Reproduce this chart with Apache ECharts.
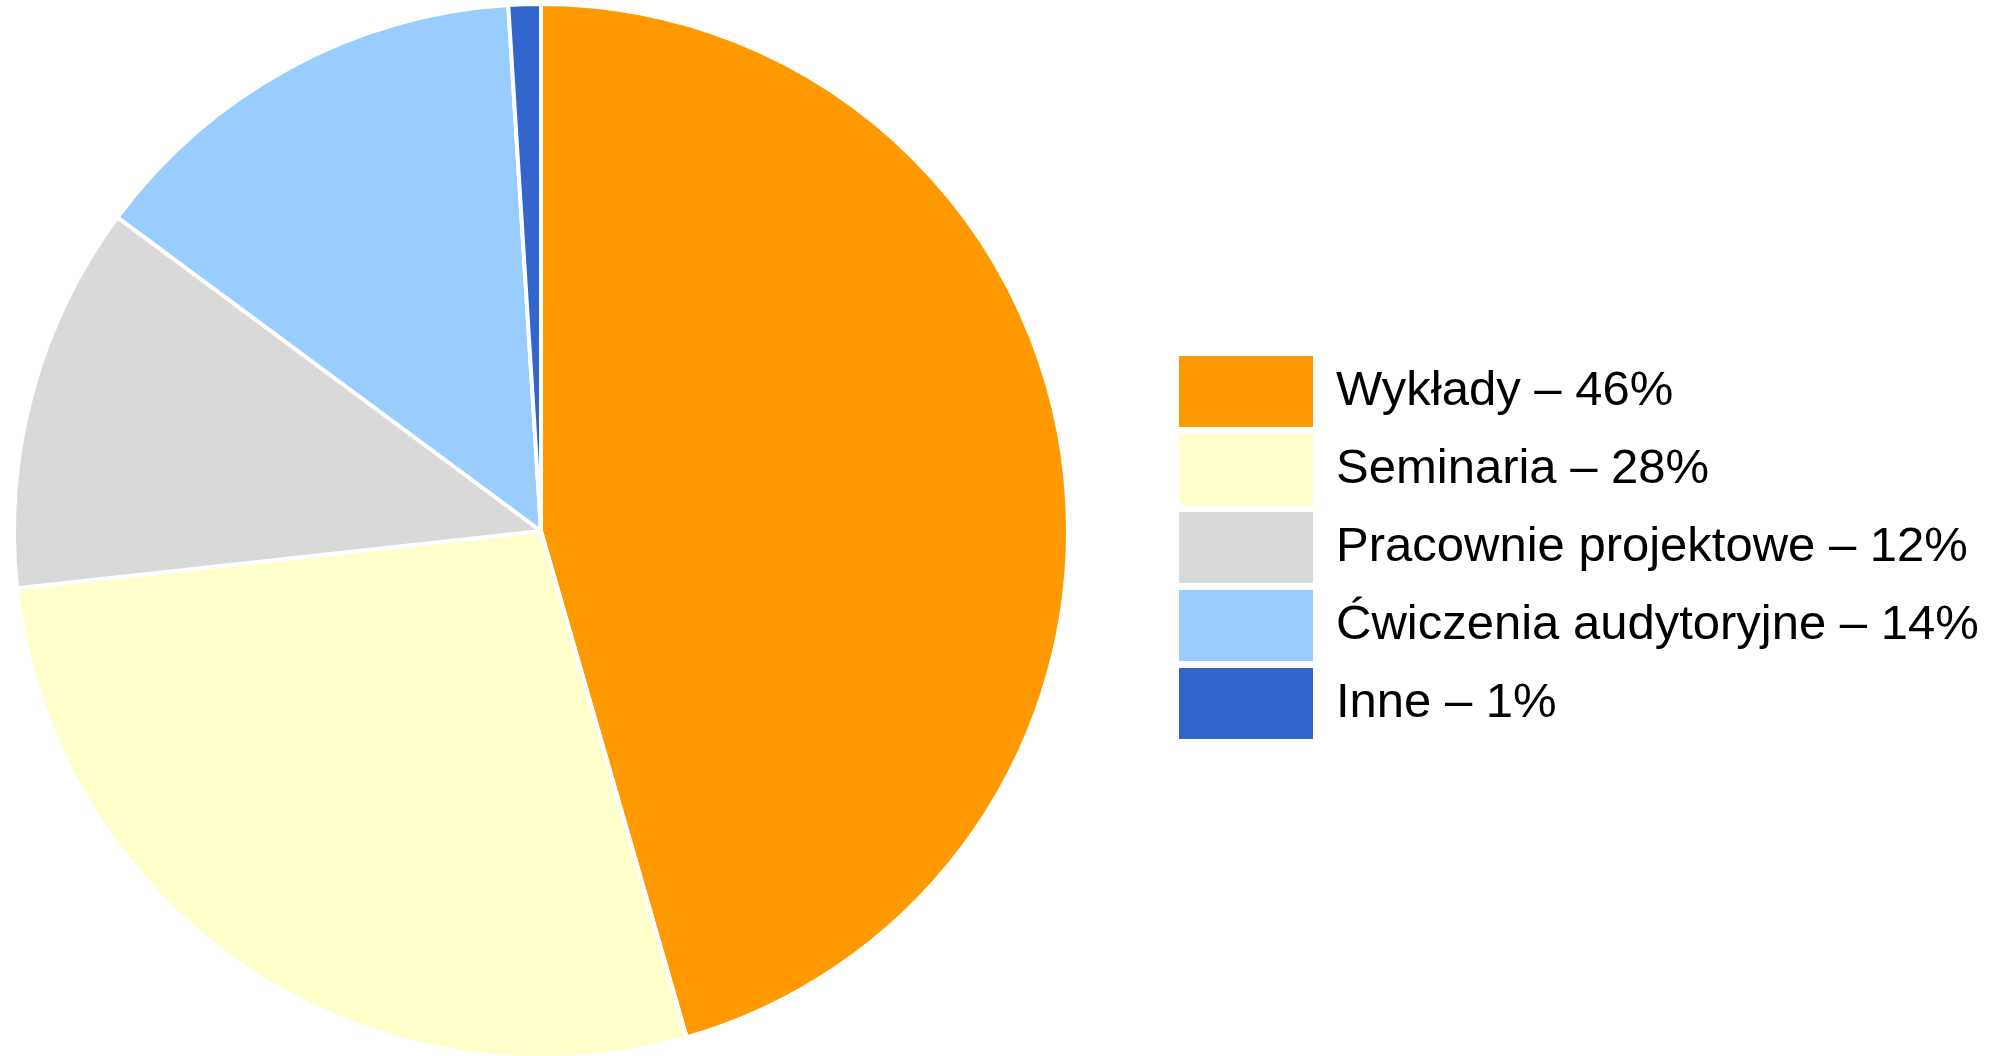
<!DOCTYPE html>
<html>
<head>
<meta charset="utf-8">
<style>
  html, body { margin: 0; padding: 0; background: #ffffff; }
  #chart { width: 2001px; height: 1056px; }
</style>
<script src="https://cdn.jsdelivr.net/npm/echarts@6/dist/echarts.min.js"></script>
</head>
<body>
<div id="chart"></div>
<script>
// Share of class types (%)
const categories = ['Wykłady', 'Seminaria', 'Pracownie projektowe', 'Ćwiczenia audytoryjne', 'Inne'];
const shares = [46, 28, 12, 14, 1];
const colors = ['#FF9900', '#FFFFCC', '#D9D9D9', '#99CCFF', '#3366CC'];

const valueByName = {};
categories.forEach((c, i) => { valueByName[c] = shares[i]; });

const chart = echarts.init(document.getElementById('chart'), null, { renderer: 'canvas' });
chart.setOption({
  animation: false,
  backgroundColor: '#ffffff',
  color: colors,
  legend: {
    orient: 'vertical',
    left: 1177,
    top: 354,
    padding: 0,
    itemWidth: 136,
    itemHeight: 73,
    itemGap: 3,
    icon: 'rect',
    selectedMode: false,
    data: categories,
    formatter: name => name + ' – ' + valueByName[name] + '%',
    textStyle: {
      fontFamily: 'Liberation Sans, Arial, sans-serif',
      fontSize: 49,
      lineHeight: 60,
      color: '#000000',
      padding: [0, 0, 0, 17]
    }
  },
  series: [{
    type: 'pie',
    center: [541, 531],
    radius: 527,
    startAngle: 90,
    clockwise: true,
    label: { show: false },
    labelLine: { show: false },
    emphasis: { disabled: true },
    itemStyle: { borderColor: '#ffffff', borderWidth: 4 },
    data: categories.map((c, i) => ({ name: c, value: shares[i] }))
  }]
});
</script>
</body>
</html>
